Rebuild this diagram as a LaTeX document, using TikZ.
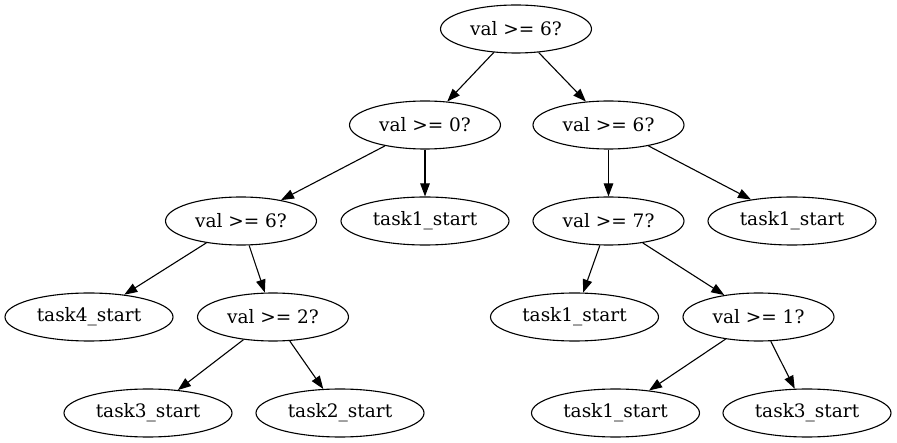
\documentclass[tikz,border=0pt]{standalone}
\usepackage{fontspec}
\setmainfont{DejaVu Serif}
\usetikzlibrary{shapes.geometric,arrows.meta}
\begin{document}
\begin{tikzpicture}[x=1pt,y=-1pt,
  base/.style={draw=black,line width=1.1pt,ellipse,inner sep=0pt,minimum height=48pt,font=\fontsize{18.5}{22}\selectfont},
  cond/.style={base,minimum width=151pt},
  task/.style={base,minimum width=168pt},
  edge/.style={draw=black,line width=1.1pt,-{Triangle[length=13pt,width=9.5pt]}}]
\useasboundingbox (0,0) rectangle (897,443);
\node[cond] (r) at (516,29) {val >= 6?};
\node[cond] (a) at (425,125) {val >= 0?};
\node[cond] (b) at (608.5,125) {val >= 6?};
\node[cond] (c) at (241,221) {val >= 6?};
\node[task] (d) at (425,221) {task1\_start};
\node[cond] (e) at (608.5,221) {val >= 7?};
\node[task] (f) at (792,221) {task1\_start};
\node[task] (g) at (89,317) {task4\_start};
\node[cond] (h) at (273,317) {val >= 2?};
\node[task] (i) at (574.5,317) {task1\_start};
\node[cond] (j) at (758.5,317) {val >= 1?};
\node[task] (k) at (148,413) {task3\_start};
\node[task] (l) at (340,413) {task2\_start};
\node[task] (m) at (615.5,413) {task1\_start};
\node[task] (n) at (807,413) {task3\_start};
\draw[edge] (r) -- (a);
\draw[edge] (r) -- (b);
\draw[edge] (a) -- (c);
\draw[edge] (a) -- (d);
\draw[edge] (b) -- (e);
\draw[edge] (b) -- (f);
\draw[edge] (c) -- (g);
\draw[edge] (c) -- (h);
\draw[edge] (e) -- (i);
\draw[edge] (e) -- (j);
\draw[edge] (h) -- (k);
\draw[edge] (h) -- (l);
\draw[edge] (j) -- (m);
\draw[edge] (j) -- (n);
\end{tikzpicture}
\end{document}
